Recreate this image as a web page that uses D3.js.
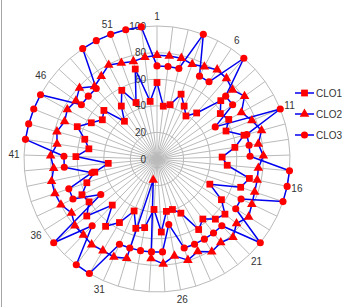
<!DOCTYPE html>
<html><head><meta charset="utf-8">
<script src="https://cdn.jsdelivr.net/npm/d3@7"></script>
<style>html,body{margin:0;padding:0;background:#fff;}svg{display:block;}</style>
</head><body>
<svg id="chart" width="356" height="307"></svg>
<script>
const categories = ["1","2","3","4","5","6","7","8","9","10","11","12","13","14","15","16","17","18","19","20","21","22","23","24","25","26","27","28","29","30","31","32","33","34","35","36","37","38","39","40","41","42","43","44","45","46","47","48","49","50","51","52","53"];
const seriesNames = ["CLO1","CLO2","CLO3"];
const clo1 = [57.5,40,42,52,44.7,39,45.7,65,58.6,61.6,56,67.8,59.2,49,53,71,66.4,44,57.3,65.8,63,56.8,61.6,44.5,39.7,40,55,38,52.4,54.5,42.7,55.5,63.7,48.3,68,60.4,62.5,55.7,47.8,36.8,61,51.8,56.3,64.7,56.4,50.6,54.1,37.5,48,58,45.3,69.6,43.6];
const clo2 = [78,78,78,76,78,81,80,77,81,72.5,77,81.5,77,80,76.5,77,77.5,79,81.5,77,82,79,81,76,79.5,74,79,75,16,78,80.5,80,81,79.5,79.5,76,80,81,81,78,80,76,78,75,77,75,79,72,75,79.5,77,75.5,77];
const clo3 = [70,70,70,100,70,70,100,70,70,50,100,70,70,70,100,100,100,70,70,100,70,70,70,70,70,50,70,70,70,70,70,100,100,70,100,50,70,70,50,70,70,100,100,100,100,70,70,70,100,100,100,100,100];
const ticks = [0,20,40,60,80,100];

const series = [clo1, clo2, clo3];
const symbols = [d3.symbolSquare, d3.symbolTriangle, d3.symbolCircle];
const symSizes = [46, 40, 40];

const svg = d3.select("#chart");
const cx = 157, cy = 159, R = 133;
const font = "'Liberation Sans', Arial, sans-serif";

const angle = d3.scaleBand().domain(categories).range([0, 2*Math.PI]).paddingInner(0).paddingOuter(0).align(0);
const r = d3.scaleLinear().domain([0,100]).range([0,R]);

// chart border (left edge)
svg.append("line").attr("x1",1.5).attr("x2",1.5).attr("y1",0).attr("y2",307)
  .attr("stroke","#a6a6a6").attr("stroke-width",1);

const g = svg.append("g").attr("transform",`translate(${cx},${cy})`);

// spokes
g.selectAll("line.spoke").data(categories).join("line")
  .attr("x1",0).attr("y1",0)
  .attr("x2",d=>R*Math.sin(angle(d))).attr("y2",d=>-R*Math.cos(angle(d)))
  .attr("stroke","#bababa").attr("stroke-width",1);

// rings (polygons)
const ringLine = d3.lineRadial().angle(d=>angle(d)).curve(d3.curveLinearClosed);
g.selectAll("path.ring").data(ticks.filter(t=>t>0)).join("path")
  .attr("d",t=>ringLine.radius(()=>r(t))(categories))
  .attr("fill","none").attr("stroke","#bababa").attr("stroke-width",1);

// radial tick labels
g.selectAll("text.tick").data(ticks).join("text")
  .attr("x",-11).attr("y",t=>-r(t))
  .attr("text-anchor","end").attr("dominant-baseline","central")
  .attr("font-family",font).attr("font-size",10).attr("fill","#333")
  .text(t=>t);

// category labels (every 5th)
const shown = categories.filter((c,i)=>i%5===0);
g.selectAll("text.cat").data(shown).join("text")
  .attr("x",d=>(R+10)*Math.sin(angle(d)))
  .attr("y",d=>-(R+10)*Math.cos(angle(d)))
  .attr("text-anchor","middle").attr("dominant-baseline","central")
  .attr("font-family",font).attr("font-size",10).attr("fill","#333")
  .text(d=>d);

// series lines
const line = d3.lineRadial()
  .angle((d,i)=>angle(categories[i]))
  .radius(d=>r(d))
  .curve(d3.curveLinearClosed);
series.forEach(s=>{
  g.append("path").attr("d",line(s)).attr("fill","none")
    .attr("stroke","#0000ee").attr("stroke-width",1.5).attr("stroke-linejoin","round");
});

// markers
series.forEach((s,k)=>{
  g.selectAll(null).data(s).join("path")
    .attr("transform",(d,i)=>{const a=angle(categories[i]);return `translate(${r(d)*Math.sin(a)},${-r(d)*Math.cos(a)})`;})
    .attr("d",d3.symbol().type(symbols[k]).size(symSizes[k]))
    .attr("fill","#ff0000");
});

// legend
const leg = svg.append("g");
const legY = [93,114,135];
seriesNames.forEach((n,k)=>{
  const y = legY[k];
  leg.append("line").attr("x1",295).attr("x2",314).attr("y1",y).attr("y2",y)
    .attr("stroke","#0000ee").attr("stroke-width",1.5);
  leg.append("path").attr("transform",`translate(304.5,${y})`)
    .attr("d",d3.symbol().type(symbols[k]).size(symSizes[k])).attr("fill","#ff0000");
  leg.append("text").attr("x",316).attr("y",y).attr("dominant-baseline","central")
    .attr("font-family",font).attr("font-size",10).attr("fill","#333").text(n);
});
</script>
</body></html>
